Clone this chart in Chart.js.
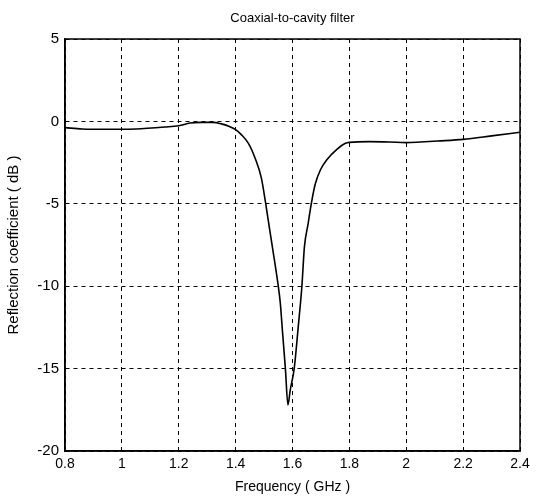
<!DOCTYPE html>
<html>
<head>
<meta charset="utf-8">
<script src="https://cdn.jsdelivr.net/npm/chart.js@4/dist/chart.umd.min.js"></script>
<style>
  html, body { margin: 0; padding: 0; background: #ffffff; }
  #wrap { width: 547px; height: 499px; }
</style>
</head>
<body>
<div id="wrap"><canvas id="c" width="547" height="499"></canvas></div>
<script>
// ---- data ----
const chartTitle = 'Coaxial-to-cavity filter';
const xAxisTitle = 'Frequency ( GHz )';
const yAxisTitle = 'Reflection coefficient ( dB )';

const frequencyGHz = [
  0.80, 0.86, 0.95, 1.00, 1.05, 1.09, 1.15, 1.20, 1.24, 1.28,
  1.32, 1.35, 1.38, 1.40, 1.42, 1.445, 1.47, 1.49, 1.505, 1.52,
  1.53, 1.55, 1.557, 1.565, 1.575, 1.584, 1.592, 1.606, 1.62, 1.633,
  1.642, 1.655, 1.666, 1.68, 1.698, 1.72, 1.757, 1.786, 1.80, 1.87,
  1.94, 2.00, 2.05, 2.11, 2.20, 2.30, 2.40
];
const reflectionDB = [
  -0.38, -0.46, -0.48, -0.48, -0.46, -0.42, -0.34, -0.26, -0.10, -0.06,
  -0.06, -0.15, -0.32, -0.50, -0.80, -1.33, -2.3, -3.4, -4.9, -6.6,
  -7.7, -10.0, -11.0, -12.8, -15.0, -17.2, -16.3, -15.0, -12.5, -10.0,
  -7.6, -6.2, -5.0, -3.8, -2.95, -2.34, -1.68, -1.33, -1.27, -1.23,
  -1.25, -1.29, -1.25, -1.19, -1.09, -0.88, -0.66
];

const xTickValues = [0.8, 1.0, 1.2, 1.4, 1.6, 1.8, 2.0, 2.2, 2.4];
const xTickLabels = ['0.8', '1', '1.2', '1.4', '1.6', '1.8', '2', '2.2', '2.4'];
const yTickValues = [5, 0, -5, -10, -15, -20];
const yTickLabels = ['5', '0', '-5', '-10', '-15', '-20'];

// ---- chart ----
const points = frequencyGHz.map((f, i) => ({ x: f, y: reflectionDB[i] }));
const FONT = '"Liberation Sans", Arial, sans-serif';

const frame = {
  id: 'frame',
  afterDatasetsDraw(chart) {
    const a = chart.chartArea, ctx = chart.ctx;
    ctx.save();
    ctx.strokeStyle = '#000';
    ctx.lineWidth = 1.5;
    ctx.setLineDash([]);
    ctx.strokeRect(a.left, a.top, a.right - a.left, a.bottom - a.top);
    ctx.restore();
  }
};

new Chart(document.getElementById('c'), {
  type: 'line',
  data: {
    datasets: [{
      data: points,
      borderColor: '#000',
      borderWidth: 1.6,
      pointRadius: 0,
      cubicInterpolationMode: 'monotone',
      fill: false,
      xAxisID: 'x',
      yAxisID: 'y'
    }]
  },
  options: {
    responsive: false,
    animation: false,
    devicePixelRatio: 1,
    layout: { padding: { left: 0, right: 27, top: 0, bottom: 0 } },
    plugins: {
      legend: { display: false },
      tooltip: { enabled: false },
      title: { display: false }
    },
    scales: {
      top: {
        type: 'linear',
        position: 'top',
        min: 0.8,
        max: 2.4,
        afterFit: s => { s.height = 39; },
        ticks: { display: false },
        grid: { display: false },
        border: { display: false },
        title: {
          display: true,
          text: chartTitle,
          color: '#000',
          font: { family: FONT, size: 13, weight: 'normal', lineHeight: 1.2 },
          padding: { top: 11, bottom: 0 }
        }
      },
      x: {
        type: 'linear',
        position: 'bottom',
        min: 0.8,
        max: 2.4,
        afterBuildTicks: s => { s.ticks = xTickValues.map(v => ({ value: v })); },
        afterFit: s => { s.height = 48; },
        ticks: {
          color: '#000',
          font: { family: FONT, size: 14 },
          padding: 5,
          maxRotation: 0,
          autoSkip: false,
          callback: (v, i) => xTickLabels[i]
        },
        grid: {
          color: '#000',
          lineWidth: 1,
          drawTicks: false
        },
        border: { display: true, color: '#000', width: 1.5, dash: [4, 4] },
        title: {
          display: true,
          text: xAxisTitle,
          color: '#000',
          font: { family: FONT, size: 14 },
          padding: { top: 0, bottom: 3 }
        }
      },
      y: {
        type: 'linear',
        min: -20,
        max: 5,
        afterBuildTicks: s => { s.ticks = yTickValues.map(v => ({ value: v })); },
        afterFit: s => { s.width = 65; },
        ticks: {
          color: '#000',
          font: { family: FONT, size: 15 },
          padding: 6,
          autoSkip: false,
          callback: (v, i) => yTickLabels[i]
        },
        grid: {
          color: '#000',
          lineWidth: 1,
          drawTicks: false
        },
        border: { display: true, color: '#000', width: 1.5, dash: [4, 4] },
        title: {
          display: true,
          text: yAxisTitle,
          color: '#000',
          font: { family: FONT, size: 15 },
          padding: { top: 5, bottom: 0 }
        }
      }
    }
  },
  plugins: [frame]
});
</script>
</body>
</html>
